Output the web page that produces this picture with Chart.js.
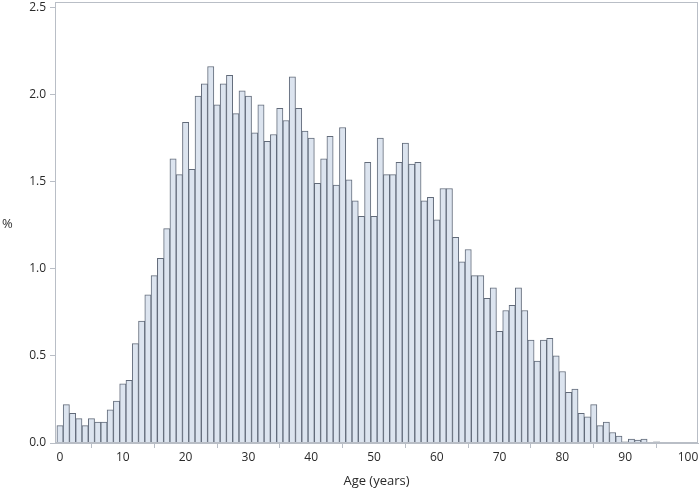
<!DOCTYPE html>
<html>
<head>
<meta charset="utf-8">
<script src="https://cdn.jsdelivr.net/npm/chart.js@4"></script>
<style>
  html, body { margin: 0; padding: 0; background: #fff; }
  #wrap { position: relative; width: 700px; height: 493px; }
  #yTitle { position: absolute; left: 2px; top: 214px; font: 13px "Open Sans", sans-serif; color: #333; }
</style>
</head>
<body>
<div id="wrap">
  <canvas id="ageChart" width="700" height="493"></canvas>
  <div id="yTitle">%</div>
</div>
<script>
// Age in years, one bar per year
const ages = [];
for (let a = 0; a <= 95; a++) ages.push(a);

// Percentage of people per year of age
const percents = [
  0.10, 0.22, 0.17, 0.14, 0.10, 0.14, 0.12, 0.12, 0.19, 0.24,
  0.34, 0.36, 0.57, 0.70, 0.85, 0.96, 1.06, 1.23, 1.63, 1.54,
  1.84, 1.57, 1.99, 2.06, 2.16, 1.94, 2.06, 2.11, 1.89, 2.02,
  1.99, 1.78, 1.94, 1.73, 1.77, 1.92, 1.85, 2.10, 1.92, 1.79,
  1.75, 1.49, 1.63, 1.76, 1.48, 1.81, 1.51, 1.39, 1.30, 1.61,
  1.30, 1.75, 1.54, 1.54, 1.61, 1.72, 1.60, 1.61, 1.39, 1.41,
  1.28, 1.46, 1.46, 1.18, 1.04, 1.11, 0.96, 0.96, 0.83, 0.89,
  0.64, 0.76, 0.79, 0.89, 0.76, 0.59, 0.47, 0.59, 0.60, 0.50,
  0.41, 0.29, 0.31, 0.17, 0.15, 0.22, 0.10, 0.12, 0.06, 0.04,
  0.006, 0.023, 0.017, 0.023, 0.0, 0.006
];

const xTicks = [0, 10, 20, 30, 40, 50, 60, 70, 80, 90, 100];
const yTicks = [0.0, 0.5, 1.0, 1.5, 2.0, 2.5];

// frame round the plot area
const frame = {
  id: 'frame',
  afterDraw(chart) {
    const { ctx, chartArea: a } = chart;
    ctx.save();
    ctx.strokeStyle = '#b9bec6';
    ctx.lineWidth = 1;
    ctx.strokeRect(a.left + 0.5, a.top + 0.5, a.right - a.left - 1, a.bottom - a.top - 1);
    ctx.restore();
  }
};

new Chart(document.getElementById('ageChart'), {
  type: 'bar',
  data: {
    datasets: [{
      data: ages.map((a, i) => ({ x: a, y: percents[i] })),
      backgroundColor: '#dce4ef',
      borderColor: '#626b7a',
      borderWidth: 1,
      barPercentage: 1,
      categoryPercentage: 1
    }]
  },
  plugins: [frame],
  options: {
    responsive: false,
    animation: false,
    layout: { padding: { left: 18, top: 2, right: 2, bottom: 0 } },
    plugins: { legend: { display: false }, tooltip: { enabled: false } },
    scales: {
      x: {
        type: 'linear',
        min: -0.8,
        max: 101.6,
        offset: false,
        afterBuildTicks: s => { s.ticks = xTicks.map(v => ({ value: v })); },
        afterFit: s => { s.height = 50; s.paddingLeft = 0; s.paddingRight = 0; },
        grid: { drawOnChartArea: false, tickLength: 5, color: '#b9bec6' },
        border: { color: '#b9bec6' },
        ticks: { color: '#2a2a2a', font: { family: 'Open Sans', size: 12 }, padding: 2, maxRotation: 0 },
        title: { display: true, text: 'Age (years)', color: '#2a2a2a', font: { family: 'Open Sans', size: 13 }, padding: { top: 0 } }
      },
      y: {
        min: 0,
        max: 2.53,
        afterBuildTicks: s => { s.ticks = yTicks.map(v => ({ value: v })); },
        afterFit: s => { s.width = 37; s.paddingTop = 0; s.paddingBottom = 0; },
        grid: { drawOnChartArea: false, tickLength: 5, color: '#b9bec6' },
        border: { color: '#b9bec6' },
        ticks: { color: '#2a2a2a', font: { family: 'Open Sans', size: 12 }, padding: 4, callback: v => v.toFixed(1) }
      }
    }
  }
});
</script>
</body>
</html>
